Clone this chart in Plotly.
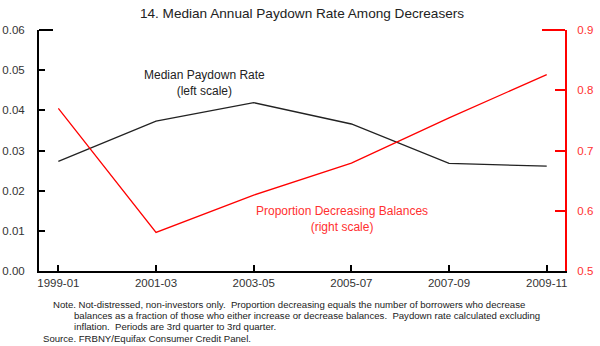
import plotly.graph_objects as go

periods = ["1999-01", "2001-03", "2003-05", "2005-07", "2007-09", "2009-11"]
paydown_rate = [0.0273, 0.0373, 0.0419, 0.0366, 0.0268, 0.0261]
prop_decreasing = [0.770, 0.564, 0.626, 0.679, 0.754, 0.826]
left_ticks = [0.00, 0.01, 0.02, 0.03, 0.04, 0.05, 0.06]
left_ticktext = ["0.00", "0.01", "0.02", "0.03", "0.04", "0.05", "0.06"]
right_ticks = [0.5, 0.6, 0.7, 0.8, 0.9]
right_ticktext = ["0.5", "0.6", "0.7", "0.8", "0.9"]

FONT = "Arial, Liberation Sans, sans-serif"
W, H = 600, 346
L, R, T, B = 39, 35, 30, 75
PW, PH = W - L - R, H - T - B

def px(xp):
    return (xp - L) / PW

def py(yp):
    return (H - B - yp) / PH

fig = go.Figure()
fig.add_trace(go.Scatter(x=periods, y=paydown_rate, mode="lines",
                         line=dict(color="#222222", width=1.3), yaxis="y"))
fig.add_trace(go.Scatter(x=periods, y=prop_decreasing, mode="lines",
                         line=dict(color="#ff0000", width=1.3), yaxis="y2"))

fig.update_layout(
    template="none",
    width=W, height=H,
    margin=dict(l=L, r=R, t=T, b=B, autoexpand=False),
    paper_bgcolor="white", plot_bgcolor="white",
    showlegend=False,
    font=dict(family=FONT, size=11.5, color="#333333"),
    title=dict(text="14. Median Annual Paydown Rate Among Decreasers",
               x=px(302), xref="paper", xanchor="center",
               y=1 - 13.3 / H, yanchor="middle",
               font=dict(size=13.6, color="#222222", family=FONT)),
    xaxis=dict(type="category", range=[-0.198, 5.187], automargin=False,
               showline=True, linecolor="black", linewidth=2,
               ticks="inside", ticklen=6, tickwidth=1.5, tickcolor="black",
               showgrid=False, zeroline=False,
               tickfont=dict(size=11.5, color="#333333")),
    yaxis=dict(range=[0, 0.06], tickvals=left_ticks, ticktext=left_ticktext,
               automargin=False,
               showline=True, linecolor="black", linewidth=2,
               ticks="inside", ticklen=6, tickwidth=2, tickcolor="black",
               showgrid=False, zeroline=False,
               tickfont=dict(size=11.5, color="#333333"),
               ticklabelstandoff=10),
    yaxis2=dict(range=[0.5, 0.9], tickvals=right_ticks, ticktext=right_ticktext,
                automargin=False, anchor="x",
                overlaying="y", side="right",
                showline=True, linecolor="#ff0000", linewidth=2,
                ticks="inside", ticklen=10, tickwidth=2, tickcolor="#ff0000",
                showgrid=False, zeroline=False,
                tickfont=dict(size=11.5, color="#ff3030"),
                ticklabelstandoff=8),
)

# longer end caps at top of both axes
fig.add_shape(type="line", xref="paper", yref="paper", xsizemode="pixel",
              xanchor=0, x0=0, x1=14, y0=1, y1=1,
              line=dict(color="black", width=2))
fig.add_shape(type="line", xref="paper", yref="paper", xsizemode="pixel",
              xanchor=1, x0=-23, x1=0, y0=1, y1=1,
              line=dict(color="#ff0000", width=2))

fig.add_annotation(text="Median Paydown Rate<br>(left scale)",
                   x=px(204), y=py(82.5), xref="paper", yref="paper",
                   xanchor="center", yanchor="middle", showarrow=False,
                   font=dict(size=12, color="#222222", family=FONT))
fig.add_annotation(text="Proportion Decreasing Balances<br>(right scale)",
                   x=px(341.5), y=py(218.7), xref="paper", yref="paper",
                   xanchor="center", yanchor="middle", showarrow=False,
                   font=dict(size=12, color="#ff3030", family=FONT))

notes = [
    ("Note. Not-distressed, non-investors only.  Proportion decreasing equals the number of borrowers who decrease", 50.7, 304.3),
    ("balances as a fraction of those who either increase or decrease balances.  Paydown rate calculated excluding", 71.7, 315.6),
    ("inflation.  Periods are 3rd quarter to 3rd quarter.", 71.7, 326.9),
    ("Source. FRBNY/Equifax Consumer Credit Panel.", 41, 338.2),
]
for txt, xx, yy in notes:
    fig.add_annotation(text=txt.replace("  ", "&nbsp; "), x=px(xx), y=py(yy),
                       xref="paper", yref="paper", xanchor="left", yanchor="middle",
                       showarrow=False, font=dict(size=9.6, color="#222222", family=FONT))

fig.write_html("out.html")
